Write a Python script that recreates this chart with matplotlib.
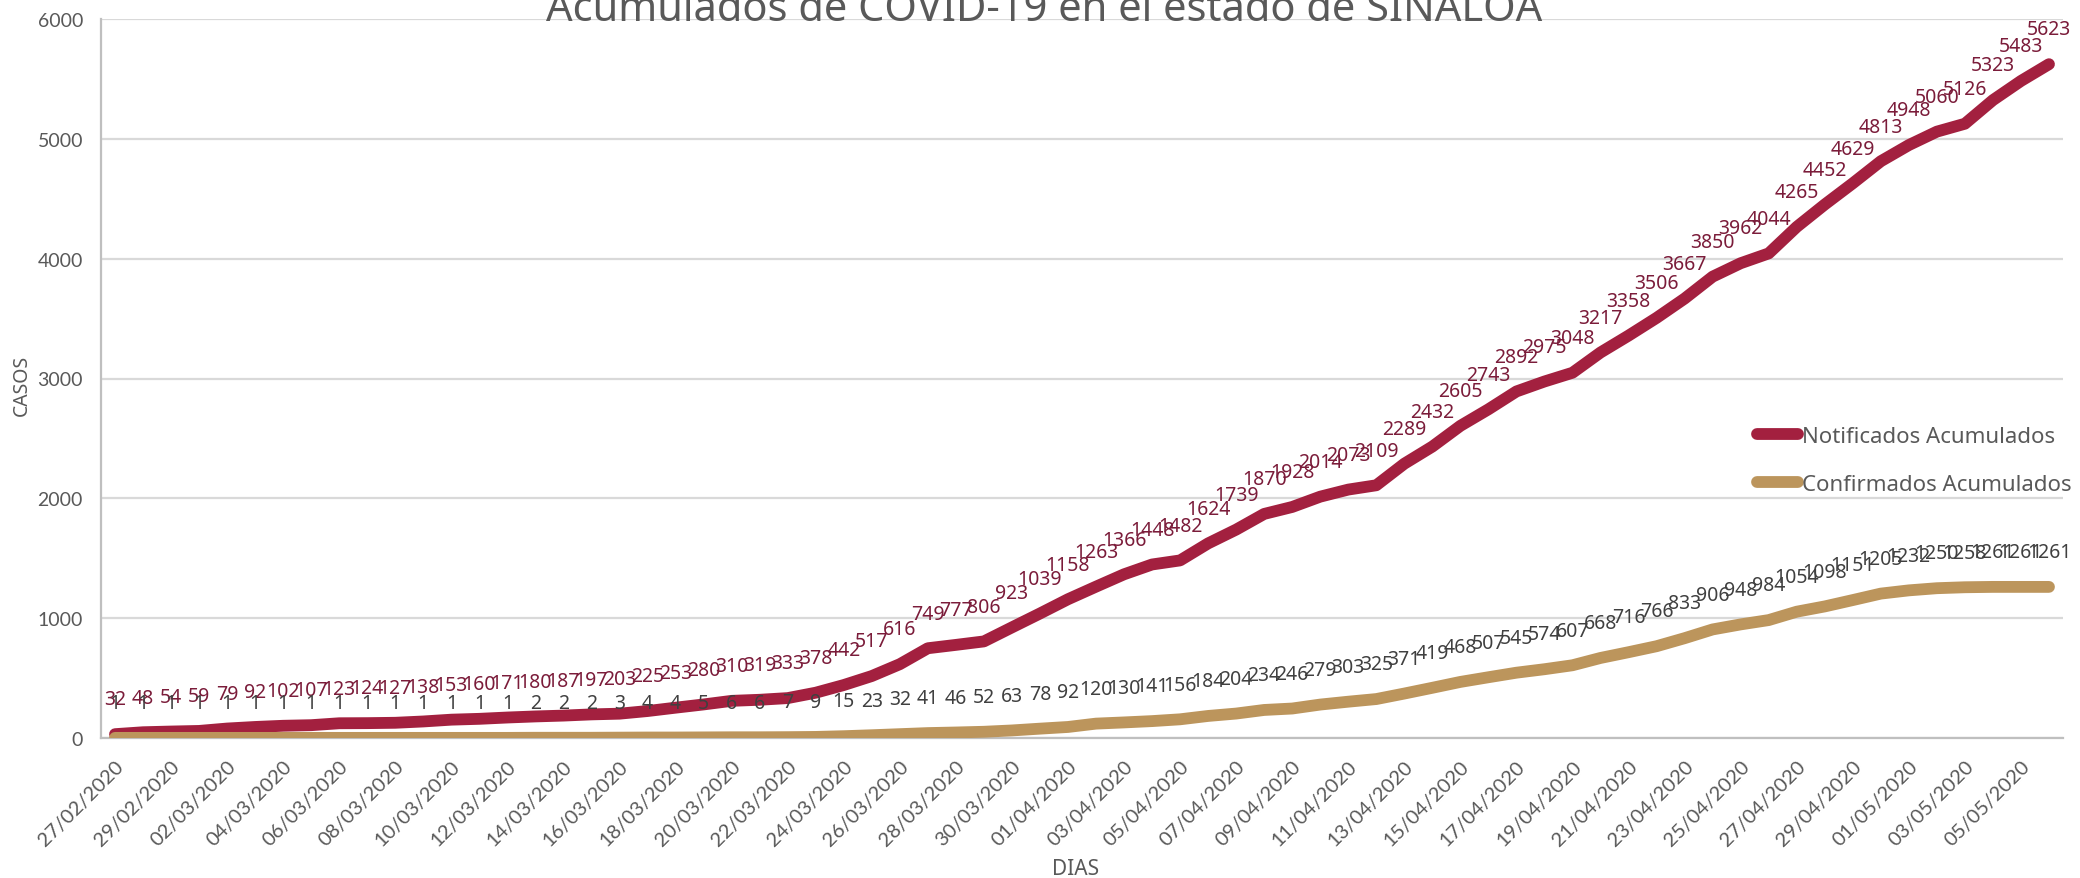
"""
Acumulados de COVID-19 en el estado de SINALOA - line chart recreation.
"""
import datetime as dt

import matplotlib
matplotlib.use("Agg")
import matplotlib.pyplot as plt
from matplotlib import font_manager
import numpy as np

# ---- data -------------------------------------------------------------
start_date = dt.date(2020, 2, 27)

notificados = [
    32, 48, 54, 59, 79, 92, 102, 107, 123, 124, 127, 138, 153, 160, 171,
    180, 187, 197, 203, 225, 253, 280, 310, 319, 333, 378, 442, 517, 616,
    749, 777, 806, 923, 1039, 1158, 1263, 1366, 1448, 1482, 1624, 1739,
    1870, 1928, 2014, 2073, 2109, 2289, 2432, 2605, 2743, 2892, 2975, 3048,
    3217, 3358, 3506, 3667, 3850, 3962, 4044, 4265, 4452, 4629, 4813, 4948,
    5060, 5126, 5323, 5483, 5623,
]

confirmados = [
    1, 1, 1, 1, 1, 1, 1, 1, 1, 1, 1, 1, 1, 1, 1,
    2, 2, 2, 3, 4, 4, 5, 6, 6, 7, 9, 15, 23, 32,
    41, 46, 52, 63, 78, 92, 120, 130, 141, 156, 184, 204,
    234, 246, 279, 303, 325, 371, 419, 468, 507, 545, 574, 607,
    668, 716, 766, 833, 906, 948, 984, 1054, 1098, 1151, 1205, 1232,
    1250, 1258, 1261, 1261, 1261,
]

fechas = [start_date + dt.timedelta(days=i) for i in range(len(notificados))]
fecha_labels = [d.strftime("%d/%m/%Y") for d in fechas]

series_names = ["Notificados Acumulados", "Confirmados Acumulados"]
y_ticks = [0, 1000, 2000, 3000, 4000, 5000, 6000]

# ---- style ------------------------------------------------------------
RED = "#A3203F"
RED_TXT = "#7B1C3A"
GOLD = "#BC955C"
GRAY_TXT = "#595959"
BODY = ["Lato", "DejaVu Sans"]

# a condensed face if one is installed, else the plain one
narrow = font_manager.FontProperties(family=["Noto Sans", "DejaVu Sans"],
                                     stretch="condensed")

plt.rcParams["font.family"] = BODY

fig = plt.figure(figsize=(20.8, 8.79), dpi=100)
ax = fig.add_axes([101 / 2080, 1 - 739 / 879, 1962 / 2080, 719 / 879])

x = np.arange(len(notificados))
ax.plot(x, notificados, color=RED, linewidth=8.5, solid_capstyle="round",
        solid_joinstyle="round", label=series_names[0], zorder=3)
ax.plot(x, confirmados, color=GOLD, linewidth=8.5, solid_capstyle="round",
        solid_joinstyle="round", label=series_names[1], zorder=3)

for xi, v in zip(x, notificados):
    ax.annotate(str(v), (xi, v), xytext=(0, 25), textcoords="offset points",
                ha="center", va="center", fontproperties=narrow, fontsize=14,
                color=RED_TXT, zorder=5)
for xi, v in zip(x, confirmados):
    ax.annotate(str(v), (xi, v), xytext=(0, 25), textcoords="offset points",
                ha="center", va="center", fontproperties=narrow, fontsize=14,
                color="#404040", zorder=5)

ax.set_xlim(-0.5, len(notificados) - 0.5)
ax.set_ylim(0, 6000)
ax.set_yticks(y_ticks)
ax.set_yticklabels([str(t) for t in y_ticks], fontsize=14, color=GRAY_TXT)
ax.set_xticks(x[::2])
ax.set_xticklabels(fecha_labels[::2], rotation=45, ha="right",
                   rotation_mode="anchor", fontsize=14.5, color=GRAY_TXT)
ax.tick_params(axis="y", length=0, pad=13)
ax.tick_params(axis="x", length=0, pad=14)

ax.grid(axis="y", color="#D9D9D9", linewidth=1.6, zorder=0)
ax.set_axisbelow(True)
for side in ("top", "right"):
    ax.spines[side].set_visible(False)
for side in ("left", "bottom"):
    ax.spines[side].set_color("#BFBFBF")
    ax.spines[side].set_linewidth(1.6)

leg_font = narrow.copy()
leg_font.set_size(16)
leg = ax.legend(loc="center left", bbox_to_anchor=(0.834, 0.386),
                frameon=False, handlelength=1.85, handletextpad=0.15,
                labelspacing=1.2, prop=leg_font)
for t in leg.get_texts():
    t.set_color(GRAY_TXT)

fig.text(1044 / 2080, 1 - 21 / 879, "Acumulados de COVID-19 en el estado de SINALOA",
         ha="center", va="baseline", fontproperties=narrow, fontsize=30,
         color=GRAY_TXT)
fig.text(22 / 2080, 1 - 385 / 879, "CASOS", rotation=90, ha="center",
         va="center", fontproperties=narrow, fontsize=14, color=GRAY_TXT)
fig.text(1076 / 2080, 1 - 870 / 879, "DIAS", ha="center", va="center",
         fontproperties=narrow, fontsize=15, color=GRAY_TXT)

fig.savefig("out.png", dpi=100)
